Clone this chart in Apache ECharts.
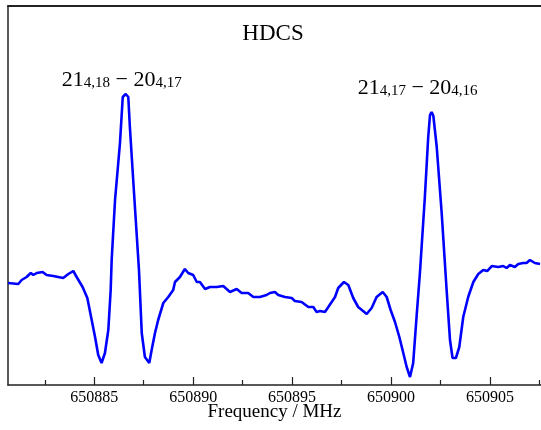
<!DOCTYPE html>
<html>
<head>
<meta charset="utf-8">
<script src="https://cdn.jsdelivr.net/npm/echarts@6/dist/echarts.min.js"></script>
<style>html,body{margin:0;padding:0;background:#fff}#c{width:541px;height:430px}</style>
</head>
<body>
<div id="c"></div>
<script>
const frequency = [
650880.64,650880.70,650881.16,650881.33,650881.58,650881.79,650881.92,650882.09,650882.39,650882.59,
650882.93,650883.18,650883.43,650883.69,650883.94,650884.11,650884.41,650884.65,650884.87,650885.04,
650885.20,650885.37,650885.54,650885.71,650885.83,650885.88,650886.05,650886.30,650886.44,650886.59,
650886.72,650886.80,650887.01,650887.26,650887.40,650887.56,650887.78,650887.90,650888.07,650888.23,
650888.49,650888.74,650888.99,650889.08,650889.33,650889.58,650889.75,650890.00,650890.18,650890.34,
650890.60,650890.85,650891.19,650891.52,650891.86,650892.20,650892.45,650892.78,650893.04,650893.37,
650893.71,650893.88,650894.13,650894.30,650894.64,650894.98,650895.14,650895.48,650895.82,650896.07,
650896.24,650896.41,650896.66,650896.83,650897.17,650897.33,650897.62,650897.84,650898.09,650898.34,
650898.77,650899.02,650899.27,650899.58,650899.78,650899.98,650900.20,650900.42,650900.62,650900.79,
650900.96,650901.12,650901.29,650901.46,650901.71,650901.88,650901.97,650902.05,650902.14,650902.31,
650902.56,650902.81,650902.98,650903.11,650903.28,650903.45,650903.65,650903.90,650904.16,650904.41,
650904.66,650904.86,650905.09,650905.42,650905.67,650905.84,650906.01,650906.26,650906.43,650906.68,
650906.85,650907.02,650907.27,650907.53
];
const intensity = [
-0.03,-0.03,-0.04,0.00,0.03,0.07,0.05,0.07,0.08,0.05,
0.04,0.03,0.02,0.06,0.09,0.03,-0.07,-0.18,-0.40,-0.57,
-0.75,-0.83,-0.73,-0.50,-0.10,0.20,0.80,1.37,1.83,1.86,
1.83,1.53,0.87,0.10,-0.53,-0.77,-0.83,-0.70,-0.53,-0.40,
-0.23,-0.17,-0.10,-0.02,0.03,0.11,0.07,0.05,-0.02,-0.02,
-0.09,-0.07,-0.07,-0.06,-0.12,-0.09,-0.13,-0.13,-0.17,-0.17,
-0.15,-0.13,-0.12,-0.15,-0.17,-0.18,-0.21,-0.22,-0.27,-0.27,
-0.32,-0.31,-0.32,-0.27,-0.17,-0.08,-0.02,-0.05,-0.18,-0.27,
-0.34,-0.28,-0.17,-0.12,-0.17,-0.30,-0.42,-0.57,-0.73,-0.87,
-0.97,-0.83,-0.37,0.07,0.83,1.43,1.65,1.68,1.64,1.33,
0.67,-0.10,-0.60,-0.78,-0.78,-0.67,-0.37,-0.17,-0.02,0.06,
0.10,0.09,0.14,0.13,0.14,0.12,0.15,0.13,0.16,0.17,
0.17,0.20,0.17,0.16
];
const majorTicks = [650885, 650890, 650895, 650900, 650905];
const minorTicks = [650882.5, 650887.5, 650892.5, 650897.5, 650902.5, 650907.5];
const peakLabels = [
  {freq: 650886.59, value: 1.86, upper: '21', lowerSub: '4,18', upper2: '20', lowerSub2: '4,17'},
  {freq: 650902.05, value: 1.68, upper: '21', lowerSub: '4,17', upper2: '20', lowerSub2: '4,16'}
];
const titleText = 'HDCS';
const xName = 'Frequency / MHz';

const X_MIN = 650880.64, X_MAX = 650907.58;
const serif = '"Liberation Serif", "DejaVu Serif", serif';
const axisColor = '#222';

const chart = echarts.init(document.getElementById('c'), null, {renderer: 'canvas'});
const data = frequency.map((f, i) => [f, intensity[i]]);

const richStyle = {
  n: {fontFamily: serif, fontSize: 22, lineHeight: 22, color: '#000', verticalAlign: 'bottom'},
  s: {fontFamily: serif, fontSize: 15, lineHeight: 6, color: '#000', verticalAlign: 'bottom'}
};

chart.setOption({
  animation: false,
  title: {
    text: titleText, left: 268, top: 17, textAlign: 'center',
    textStyle: {fontFamily: serif, fontSize: 23, fontWeight: 'normal', color: '#000'}
  },
  grid: {left: 8, right: 0, top: 6, bottom: 45, containLabel: false, outerBoundsMode: 'none'},
  xAxis: [
    {
      type: 'value', min: X_MIN, max: X_MAX, position: 'bottom',
      name: xName, nameLocation: 'middle', nameGap: 18, nameMoveOverlap: false,
      nameTextStyle: {fontFamily: serif, fontSize: 19, color: '#000', verticalAlign: 'top'},
      axisLine: {show: true, onZero: false, lineStyle: {color: axisColor, width: 1.5}},
      axisTick: {show: true, inside: true, length: 8, customValues: majorTicks, lineStyle: {color: axisColor, width: 1.2}},
      axisLabel: {show: true, customValues: majorTicks, margin: 5, fontFamily: serif, fontSize: 16, color: '#000',
        formatter: v => String(Math.round(v))},
      splitLine: {show: false}
    },
    {
      type: 'value', min: X_MIN, max: X_MAX, position: 'bottom', gridIndex: 0,
      axisLine: {show: false, onZero: false},
      axisTick: {show: true, inside: true, length: 5, customValues: minorTicks, lineStyle: {color: axisColor, width: 1.2}},
      axisLabel: {show: false},
      splitLine: {show: false}
    },
    {
      type: 'value', min: X_MIN, max: X_MAX, position: 'top', gridIndex: 0,
      axisLine: {show: true, onZero: false, lineStyle: {color: axisColor, width: 2}},
      axisTick: {show: false}, axisLabel: {show: false}, splitLine: {show: false}
    }
  ],
  yAxis: {
    type: 'value', min: -1.05, max: 2.74,
    axisLine: {show: true, onZero: false, lineStyle: {color: axisColor, width: 1.5}},
    axisTick: {show: false}, axisLabel: {show: false}, splitLine: {show: false}
  },
  series: [{
    type: 'line', xAxisIndex: 0, data: data, showSymbol: false, symbol: 'none',
    lineStyle: {color: '#0000ff', width: 2.6}, smooth: false,
    markPoint: {
      symbol: 'circle', symbolSize: 0, silent: true,
      data: peakLabels.map((p, i) => ({
        coord: [p.freq, p.value],
        label: {
          show: true, position: 'top', distance: 3,
          offset: i === 0 ? [-4, 0] : [-14, -10],
          formatter: `{n|${p.upper}}{s|${p.lowerSub}}{n| − ${p.upper2}}{s|${p.lowerSub2}}`,
          rich: richStyle
        }
      }))
    }
  }]
});
</script>
</body>
</html>
